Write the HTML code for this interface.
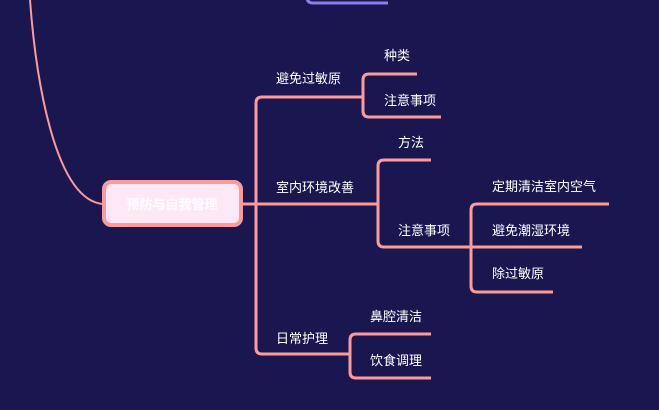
<!DOCTYPE html>
<html><head><meta charset="utf-8"><style>
html,body{margin:0;padding:0;background:#1a1650;}
svg{display:block}
text{font-family:"Liberation Sans","Noto Sans CJK SC",sans-serif;font-size:13px;fill:#fff;}
</style></head><body>
<svg width="659" height="410" viewBox="0 0 659 410" xmlns="http://www.w3.org/2000/svg">
<rect width="659" height="410" fill="#1a1650"/>
<path d="M30 0 C 36 80, 55 200, 103 204" fill="none" stroke="#ff9a9a" stroke-width="2"/>
<path d="M307 -8 L307 -3 Q307 3 313 3 L388 3" fill="none" stroke="#8b7fe8" stroke-width="3"/>
<g fill="none" stroke="#ff9a9a" stroke-width="3">
<path d="M242 204 L378 204"/>
<path d="M362 97 L262 97 Q256 97 256 103 L256 348 Q256 354 262 354 L350 354"/>
<path d="M362 97 L363 97"/>
<path d="M417 74 L369 74 Q363 74 363 80 L363 111 Q363 117 369 117 L441 117"/>
<path d="M431 160 L384 160 Q378 160 378 166 L378 241 Q378 247 384 247 L471 247"/>
<path d="M609 204 L477 204 Q471 204 471 210 L471 286 Q471 292 477 292 L553 292"/>
<path d="M471 247 L582 247"/>
<path d="M431 334 L356 334 Q350 334 350 340 L350 372 Q350 378 356 378 L431 378"/>
</g>
<rect x="104" y="182" width="137" height="43" rx="7" fill="#ffe8f5" stroke="#ff9a9a" stroke-width="4"/>
<text x="172" y="209" text-anchor="middle" style="font-weight:bold;fill:#fff">预防与自我管理</text>
<text x="276" y="83">避免过敏原</text>
<text x="276" y="192">室内环境改善</text>
<text x="276" y="343">日常护理</text>
<text x="384" y="60">种类</text>
<text x="384" y="105">注意事项</text>
<text x="398" y="147">方法</text>
<text x="398" y="235">注意事项</text>
<text x="492" y="191">定期清洁室内空气</text>
<text x="492" y="235">避免潮湿环境</text>
<text x="492" y="278">除过敏原</text>
<text x="370" y="321">鼻腔清洁</text>
<text x="370" y="365">饮食调理</text>
</svg>
</body></html>
